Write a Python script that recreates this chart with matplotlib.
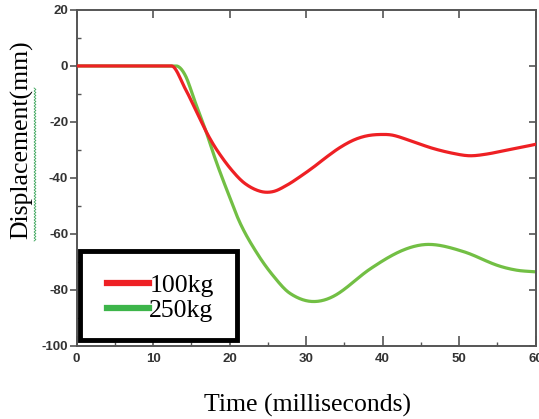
import numpy as np
import matplotlib.pyplot as plt
from matplotlib.patches import Rectangle
from matplotlib.ticker import MultipleLocator

# displacement traces (mm) against time (ms)
t_100 = [0, 5, 10, 12.4, 14.2, 15.9, 17.2, 18.5, 20.3, 22.0, 24.0, 25.7, 27.5,
         29.2, 31.0, 32.7, 34.4, 36.2, 37.9, 39.7, 41.4, 44.0, 46.6, 49.3,
         51.4, 53.6, 56.2, 58.8, 60]
d_100 = [0, 0, 0, 0, -8.1, -17.6, -24.8, -30.7, -37.3, -42.0, -44.8, -44.9, -42.6,
         -39.6, -36.1, -32.5, -29.2, -26.5, -25.0, -24.5, -24.8, -27.1, -29.5, -31.3,
         -32.1, -31.5, -30.1, -28.7, -28.0]

t_250 = [0, 5, 10, 13.0, 14.2, 15.5, 16.8, 18.1, 19.4, 21.4, 23.6, 25.7, 27.9,
         30.8, 33.8, 38.4, 42.7, 46.2, 50.6, 54.9, 57.5, 60]
d_250 = [0, 0, 0, 0, -3.3, -12.9, -22.4, -33.0, -42.6, -56.3, -67.0, -75.0, -81.3,
         -84.2, -82.0, -72.5, -65.8, -63.8, -66.4, -71.2, -73.0, -73.6]

labels = ["100kg", "250kg"]

RED = "#ee2024"
GREEN = "#72bf44"
SERIF = ["Liberation Serif", "DejaVu Serif"]
NARROW = ["Liberation Sans Narrow", "Liberation Sans", "DejaVu Sans"]


def smooth(x, y, n=600):
    # cubic Hermite through the read points, flat where a neighbouring span is flat
    x = np.asarray(x, float)
    y = np.asarray(y, float)
    h = np.diff(x)
    s = np.diff(y) / h
    m = np.zeros_like(y)
    m[1:-1] = (y[2:] - y[:-2]) / (x[2:] - x[:-2])
    m[1:-1][(s[:-1] == 0) | (s[1:] == 0)] = 0
    m[0], m[-1] = s[0], s[-1]
    xs = np.linspace(x[0], x[-1], n)
    i = np.clip(np.searchsorted(x, xs) - 1, 0, len(h) - 1)
    u = (xs - x[i]) / h[i]
    h00 = 2 * u**3 - 3 * u**2 + 1
    h10 = u**3 - 2 * u**2 + u
    h01 = -2 * u**3 + 3 * u**2
    h11 = u**3 - u**2
    ys = h00 * y[i] + h10 * h[i] * m[i] + h01 * y[i + 1] + h11 * h[i] * m[i + 1]
    return xs, ys


fig = plt.figure(figsize=(5.39, 4.19), dpi=100)
ax = fig.add_axes([76.5 / 539, 1 - 345.7 / 419, 459.2 / 539, 335.7 / 419])

x1, y1 = smooth(t_100, d_100)
x2, y2 = smooth(t_250, d_250)
ax.plot(x1, y1, color=RED, lw=2.3, label=labels[0], zorder=3)
ax.plot(x2, y2, color=GREEN, lw=2.3, label=labels[1], zorder=2)

ax.set_xlim(0, 60)
ax.set_ylim(-100, 20)
ax.xaxis.set_major_locator(MultipleLocator(10))
ax.xaxis.set_minor_locator(MultipleLocator(5))
ax.yaxis.set_major_locator(MultipleLocator(20))
ax.yaxis.set_minor_locator(MultipleLocator(10))

for sp in ax.spines.values():
    sp.set_color("#555555")
    sp.set_linewidth(1.4)

ax.tick_params(axis="x", which="major", direction="in", length=7, width=1.2,
               color="#555555", pad=5)
ax.tick_params(axis="x", which="minor", direction="in", length=3, width=1.0,
               color="#555555")
ax.tick_params(axis="y", which="major", direction="out", length=5, width=1.2,
               color="#555555", pad=1)
ax.tick_params(axis="y", which="minor", direction="in", length=3, width=1.0,
               color="#555555")

ax.set_yticks(np.arange(-100, 21, 20))
ax.set_yticklabels([f"{v}" for v in np.arange(-100, 21, 20)])
ax.set_ylim(-100, 20)
for lab in ax.get_xticklabels() + ax.get_yticklabels():
    lab.set_family(NARROW)
    lab.set_fontsize(9.5)
    lab.set_fontweight("bold")
    lab.set_color("#333333")

# inward ticks on the top and right edges
top = ax.secondary_xaxis("top")
top.xaxis.set_major_locator(MultipleLocator(10))
top.tick_params(direction="in", length=6, width=1.2, color="#555555", labeltop=False)
right = ax.secondary_yaxis("right")
right.yaxis.set_major_locator(MultipleLocator(20))
right.tick_params(direction="in", length=5, width=1.2, color="#555555", labelright=False)
for s in (top, right):
    for sp in s.spines.values():
        sp.set_visible(False)

fig.text(308 / 539, 1 - 405 / 419, "Time (milliseconds)", family=SERIF,
         fontsize=18.5, ha="center", va="center")
fig.text(22 / 539, 1 - 140 / 419, "Displacement(mm)", family=SERIF,
         fontsize=18.5, ha="center", va="center", rotation=90)

# spell-check squiggle under the axis title
sy = np.arange(88, 242, 1.5)
sx = 35 + 0.9 * np.where(np.arange(len(sy)) % 2 == 0, -1, 1)
fig.add_artist(plt.Line2D(sx / 539, 1 - sy / 419, color="#3aa55a", lw=0.6,
                          transform=fig.transFigure))

# legend: heavy black box drawn separately, entries placed inside it
ax.add_patch(Rectangle((0.0076, 0.017), 0.342, 0.266, transform=ax.transAxes,
                       facecolor="white", edgecolor="black", lw=3.5, zorder=5,
                       clip_on=False))
leg = ax.legend(loc="center left", bbox_to_anchor=(0.066, 0.143), borderaxespad=0,
                prop={"family": SERIF, "size": 18.5}, handlelength=1.65,
                handletextpad=0.0, labelspacing=0.09, borderpad=0,
                frameon=False)
leg.set_zorder(6)
for h, c in zip(leg.get_lines(), [RED, "#3db54a"]):
    h.set_linewidth(4.5)
    h.set_color(c)

fig.savefig("out.png", dpi=100)
